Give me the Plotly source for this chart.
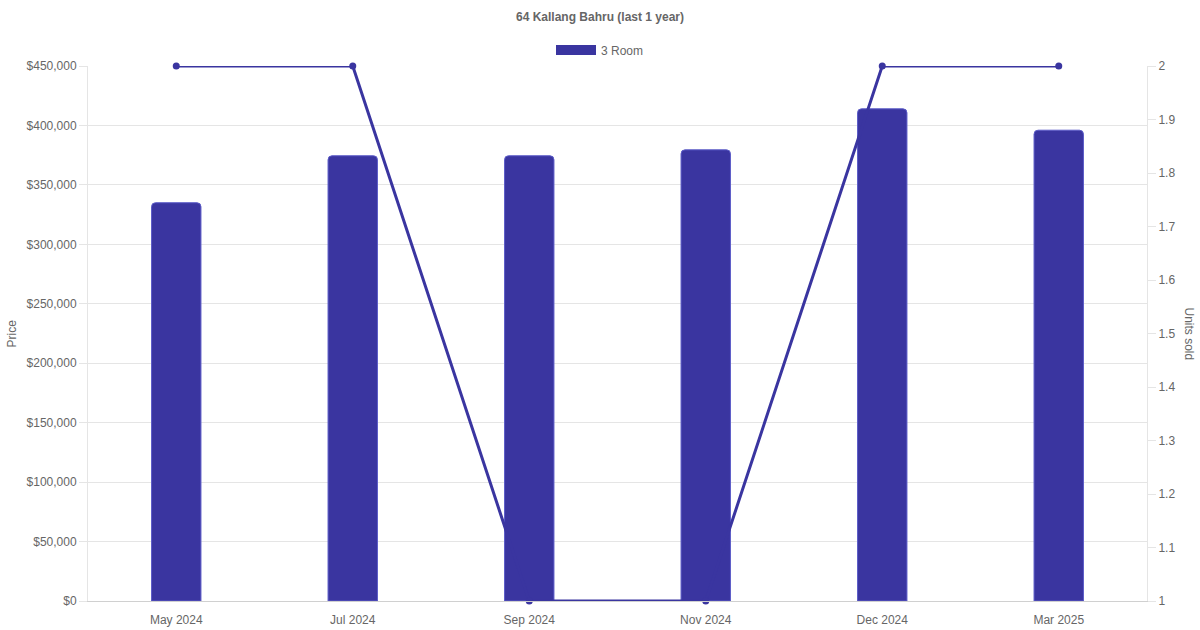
import plotly.graph_objects as go

months = ["May 2024", "Jul 2024", "Sep 2024", "Nov 2024", "Dec 2024", "Mar 2025"]
prices = [335000, 374500, 374500, 379500, 414000, 396000]
units_sold = [2, 2, 1, 1, 2, 2]
series_name = "3 Room"
title_text = "64 Kallang Bahru (last 1 year)"

BAR = "#3a35a0"
TXT = "#666666"
GRID = "#e5e5e5"
FONT = "Liberation Sans, Arial, sans-serif"

fig = go.Figure()
fig.add_trace(go.Bar(
    x=months, y=prices, name=series_name, width=0.28,
    marker=dict(color=BAR, line=dict(color="#5c5cc8", width=1), cornerradius=4),
    yaxis="y", showlegend=False,
))
# legend proxy (no data) so the legend swatch is a wide rectangle
fig.add_trace(go.Scatter(
    x=[None], y=[None], mode="lines", name=series_name,
    line=dict(color=BAR, width=12), showlegend=True, yaxis="y",
))
fig.add_trace(go.Scatter(
    x=months, y=units_sold, mode="lines+markers", yaxis="y2",
    line=dict(color=BAR, width=3), marker=dict(color=BAR, size=7),
    showlegend=False, cliponaxis=False,
))

fig.update_layout(
    width=1200, height=630,
    margin=dict(l=88, r=53, t=66, b=29),
    paper_bgcolor="white", plot_bgcolor="white",
    font=dict(family=FONT, size=12, color=TXT),
    title=dict(text="<b>" + title_text + "</b>", x=0.5, xanchor="center",
               y=1 - 17 / 630, yanchor="middle", font=dict(size=12, color=TXT)),
    showlegend=True,
    legend=dict(orientation="h", x=(600 - 88) / 1059, xanchor="center",
                y=1 + 16 / 535, yanchor="middle", font=dict(size=12, color=TXT),
                bgcolor="rgba(0,0,0,0)", itemwidth=40),
    xaxis=dict(showgrid=False, showline=True, linecolor="#d0d0d0", linewidth=1,
               ticks="outside", ticklen=8, tickcolor="rgba(0,0,0,0)",
               tickfont=dict(size=12, color=TXT), fixedrange=True,
               automargin=False),
    yaxis=dict(range=[0, 450000], dtick=50000, tickprefix="$", tickformat=",",
               showgrid=True, gridcolor=GRID, gridwidth=1,
               showline=True, linecolor=GRID, linewidth=1,
               ticks="outside", ticklen=8, tickcolor=GRID, automargin=False,
               zeroline=False, tickfont=dict(size=12, color=TXT)),
    yaxis2=dict(range=[1, 2], dtick=0.1, overlaying="y", side="right",
                showgrid=False, showline=True, linecolor=GRID, linewidth=1,
                ticks="outside", ticklen=8, tickcolor=GRID, zeroline=False,
                automargin=False, tickfont=dict(size=12, color=TXT)),
    annotations=[
        dict(text="Price", xref="paper", yref="paper", x=(11 - 88) / 1059,
             y=0.5, textangle=-90, showarrow=False, xanchor="center",
             yanchor="middle", font=dict(size=12, color=TXT)),
        dict(text="Units sold", xref="paper", yref="paper",
             x=1 + (1189 - 1147) / 1059, y=0.5, textangle=90, showarrow=False,
             xanchor="center", yanchor="middle", font=dict(size=12, color=TXT)),
    ],
)

fig.write_html(
    "out.html",
    config={"displayModeBar": False},
    post_script="document.body.style.margin='0';document.body.style.overflow='hidden';",
)
